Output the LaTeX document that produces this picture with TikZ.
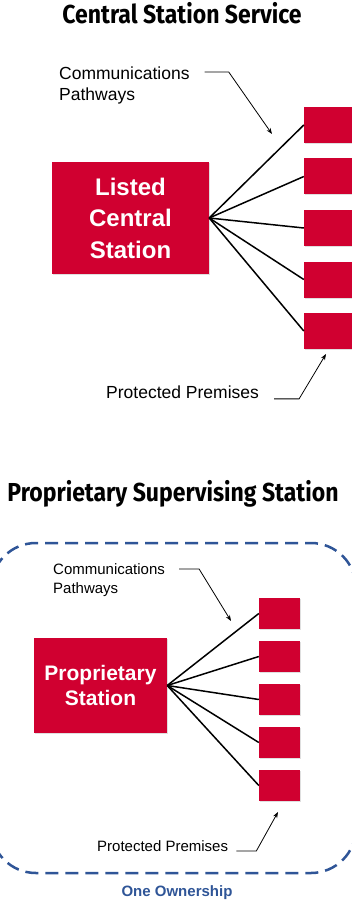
\documentclass[tikz,border=0pt]{standalone}
\usepackage{fontspec}
\setmainfont{Liberation Sans}
\newfontfamily\titlefont{Fira Sans}[FakeStretch=0.885]
\usetikzlibrary{arrows.meta, positioning, shadows}
\definecolor{BoxRed}{RGB}{208,0,48}
\definecolor{OwnBlue}{RGB}{47,85,151}

\begin{document}
\begin{tikzpicture}[x=1pt, y=-1pt,
	station/.style={fill=BoxRed, text=white, align=center, inner sep=0pt,
		drop shadow={shadow xshift=1pt, shadow yshift=-1pt, opacity=0.25}},
	premise/.style={fill=BoxRed, inner sep=0pt,
		drop shadow={shadow xshift=1pt, shadow yshift=-1pt, opacity=0.25}},
	label/.style={inner sep=0pt, align=left},
	callout/.style={-{Stealth[length=6pt, width=4.5pt]}, line width=0.8pt},
	link/.style={line width=1.5pt},
	heading/.style={font=\titlefont\bfseries\fontsize{26}{30}\selectfont, inner sep=0pt}]
	\useasboundingbox (0,0) rectangle (351,909);

	% Central Station Service
	\node[heading, anchor=base] (t1) at (182,24) {Central Station Service};
	\node[station, minimum width=157pt, minimum height=112pt,
		font=\bfseries\fontsize{24}{31.5}\selectfont] (cs) at (130.5,218) {Listed\\Central\\Station};
	\foreach \i in {1,...,5} {
		\node[premise, minimum width=48pt, minimum height=36pt] (a\i) at (328,{125+51.5*(\i-1)}) {};
		\draw[link] (cs.east) -- (a\i.west);
	}
	\node[label, anchor=north west, font=\fontsize{17.5}{21}\selectfont] (cpa) at (59,67) {Communications\\Pathways};
	\coordinate (tipa) at (272,134);
	\draw[callout] ([xshift=15pt, yshift=-5pt]cpa.north east) -- ++(24,0) -- (tipa);
	\node[label, anchor=north west, font=\fontsize{17.5}{21}\selectfont] (ppa) at (106,386) {Protected Premises};
	\coordinate (tipb) at (326,354);
	\draw[callout] ([xshift=15pt]ppa.base east) -- ++(25,0) -- (tipb);

	% Proprietary Supervising Station
	\node[heading, anchor=base] (t2) at (173,501) {Proprietary Supervising Station};
	\draw[OwnBlue, line width=2.5pt, dash pattern=on 13pt off 7pt, rounded corners=45pt]
		(-9,543) rectangle (356,873);
	\node[station, minimum width=133pt, minimum height=95pt,
		font=\bfseries\fontsize{21}{24.5}\selectfont] (ps) at (100.5,685.5) {Proprietary\\Station};
	\foreach \i in {1,...,5} {
		\node[premise, minimum width=41pt, minimum height=31pt] (b\i) at (279.5,{613.5+43*(\i-1)}) {};
		\draw[link] (ps.east) -- (b\i.west);
	}
	\node[label, anchor=north west, font=\fontsize{15}{19}\selectfont] (cpb) at (53,563) {Communications\\Pathways};
	\coordinate (tipc) at (231,621);
	\draw[callout] ([xshift=14pt, yshift=-6pt]cpb.north east) -- ++(20,0) -- (tipc);
	\node[label, anchor=north west, font=\fontsize{15}{19}\selectfont] (ppb) at (97,840) {Protected Premises};
	\coordinate (tipd) at (278,812);
	\draw[callout] ([xshift=8pt]ppb.base east) -- ++(20,0) -- (tipd);
	\node[anchor=base, inner sep=0pt, text=OwnBlue, font=\bfseries\fontsize{15}{18}\selectfont] (oo) at (177,896) {One Ownership};
\end{tikzpicture}
\end{document}
